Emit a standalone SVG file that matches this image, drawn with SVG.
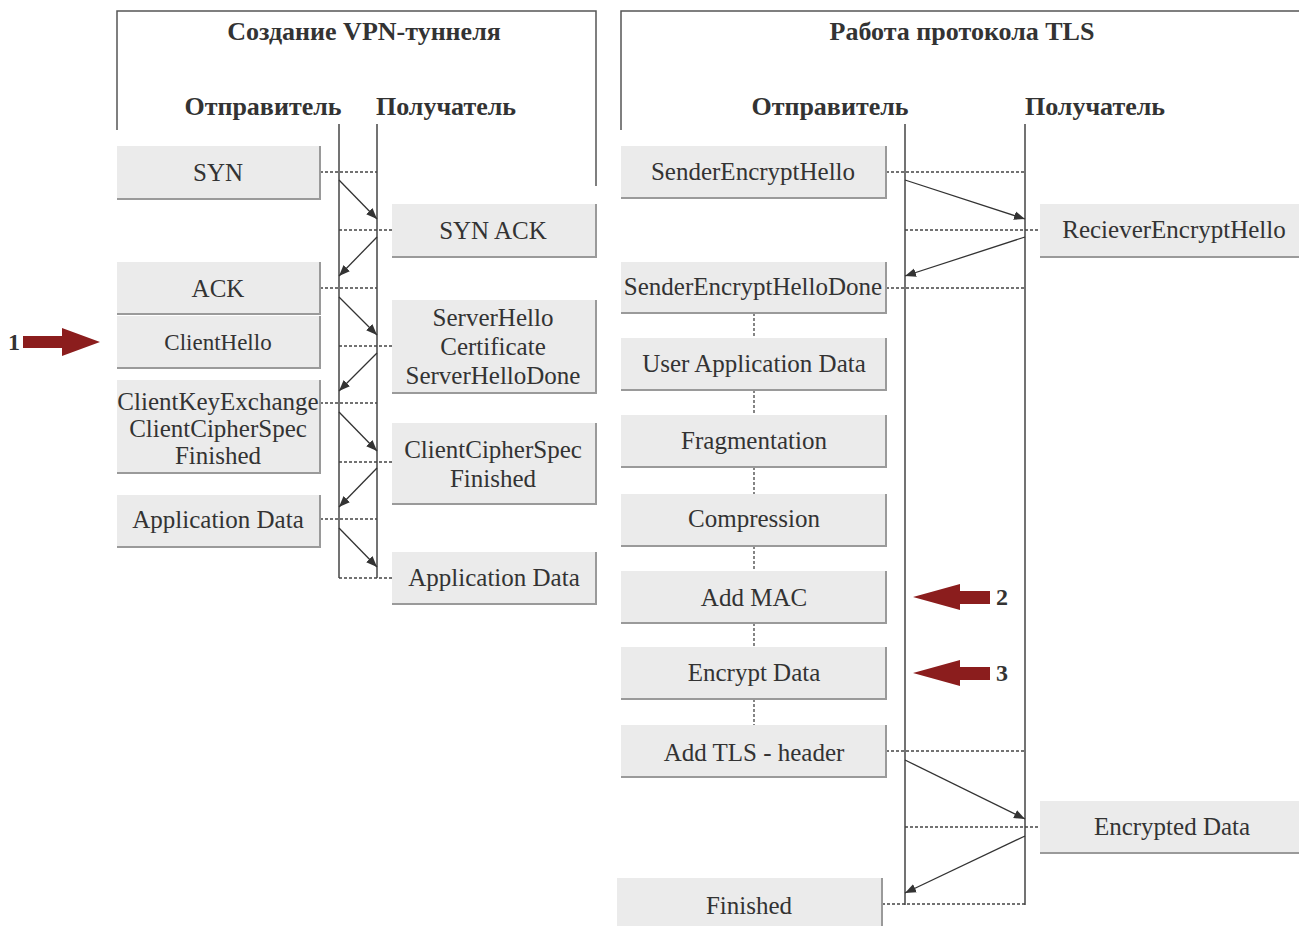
<svg xmlns="http://www.w3.org/2000/svg" width="1299" height="926" viewBox="0 0 1299 926">
<style>
.frame{fill:none;stroke:#555;stroke-width:1.5}
.life{fill:none;stroke:#444;stroke-width:1.5}
.dash{fill:none;stroke:#444;stroke-width:1.3;stroke-dasharray:3 2}
.arr{fill:none;stroke:#333;stroke-width:1.3;marker-end:url(#ah)}
.box{fill:#ebebeb}
.sh{fill:none;stroke:#9a9a9a;stroke-width:2}
.t{font-family:"Liberation Serif","Times New Roman",serif;font-size:25px;fill:#333;text-anchor:middle}
.h{font-family:"Liberation Serif","Times New Roman",serif;font-size:26px;font-weight:bold;fill:#333;text-anchor:middle}
.red{fill:#8b1d1d}
.num{font-family:"Liberation Serif","Times New Roman",serif;font-size:24px;font-weight:bold;fill:#333}
</style>
<defs>
<marker id="ah" viewBox="0 0 10 10" refX="10" refY="5" markerWidth="11" markerHeight="11" markerUnits="userSpaceOnUse" orient="auto">
<path d="M0,1 L10,5 L0,9 Z" fill="#333"/>
</marker>
</defs>
<rect width="1299" height="926" fill="#fff"/>

<g id="frames">
<path class="frame" d="M117,130 V11 H596 V186"/>
<path class="frame" d="M621,130 V11 H1299"/>
<text class="h" x="364" y="40">Создание VPN-туннеля</text>
<text class="h" x="263" y="115">Отправитель</text>
<text class="h" x="446" y="115">Получатель</text>
<text class="h" x="962" y="40">Работа протокола TLS</text>
<text class="h" x="830" y="115">Отправитель</text>
<text class="h" x="1095" y="115">Получатель</text>
</g>

<g id="lifelines">
<line class="life" x1="339" y1="124" x2="339" y2="578"/>
<line class="life" x1="377" y1="124" x2="377" y2="578"/>
<line class="life" x1="905" y1="124" x2="905" y2="905"/>
<line class="life" x1="1025" y1="124" x2="1025" y2="905"/>
</g>

<g id="connectors">
<line class="dash" x1="320" y1="172" x2="377" y2="172"/>
<line class="dash" x1="339" y1="230" x2="392" y2="230"/>
<line class="dash" x1="320" y1="288" x2="377" y2="288"/>
<line class="dash" x1="339" y1="346" x2="392" y2="346"/>
<line class="dash" x1="320" y1="403" x2="377" y2="403"/>
<line class="dash" x1="339" y1="462" x2="392" y2="462"/>
<line class="dash" x1="320" y1="519" x2="377" y2="519"/>
<line class="dash" x1="339" y1="578" x2="392" y2="578"/>
<line class="arr" x1="339" y1="180" x2="377" y2="219"/>
<line class="arr" x1="377" y1="237" x2="339" y2="276"/>
<line class="arr" x1="339" y1="297" x2="377" y2="335"/>
<line class="arr" x1="377" y1="353" x2="339" y2="391"/>
<line class="arr" x1="339" y1="412" x2="377" y2="451"/>
<line class="arr" x1="377" y1="468" x2="339" y2="507"/>
<line class="arr" x1="339" y1="528" x2="377" y2="567"/>
<line class="dash" x1="886" y1="172" x2="1025" y2="172"/>
<line class="dash" x1="905" y1="230" x2="1040" y2="230"/>
<line class="dash" x1="886" y1="288" x2="1025" y2="288"/>
<line class="dash" x1="886" y1="751" x2="1025" y2="751"/>
<line class="dash" x1="905" y1="827" x2="1040" y2="827"/>
<line class="dash" x1="882" y1="904" x2="1025" y2="904"/>
<line class="dash" x1="754" y1="313" x2="754" y2="338"/>
<line class="dash" x1="754" y1="390" x2="754" y2="415"/>
<line class="dash" x1="754" y1="467" x2="754" y2="494"/>
<line class="dash" x1="754" y1="546" x2="754" y2="571"/>
<line class="dash" x1="754" y1="623" x2="754" y2="647"/>
<line class="dash" x1="754" y1="699" x2="754" y2="725"/>
<line class="arr" x1="905" y1="180" x2="1025" y2="219"/>
<line class="arr" x1="1025" y1="237" x2="905" y2="276"/>
<line class="arr" x1="905" y1="760" x2="1025" y2="819"/>
<line class="arr" x1="1025" y1="836" x2="905" y2="893"/>
</g>

<g id="n-syn"><rect class="box" x="117" y="146" width="203" height="53"/><path class="sh" d="M117,199 H320 V146"/><text class="t" x="218" y="181">SYN</text></g>
<g id="n-ack"><rect class="box" x="117" y="262" width="203" height="52"/><path class="sh" d="M117,314 H320 V262"/><text class="t" x="218" y="297">ACK</text></g>
<g id="n-clienthello"><rect class="box" x="117" y="316" width="203" height="52"/><path class="sh" d="M117,368 H320 V316"/><text class="t" x="218" y="350" style="font-size:23px">ClientHello</text></g>
<g id="n-ckx"><rect class="box" x="117" y="380" width="203" height="93"/><path class="sh" d="M117,473 H320 V380"/><text class="t" x="218" y="410">ClientKeyExchange</text><text class="t" x="218" y="437">ClientCipherSpec</text><text class="t" x="218" y="464">Finished</text></g>
<g id="n-appdata-l"><rect class="box" x="117" y="495" width="203" height="52"/><path class="sh" d="M117,547 H320 V495"/><text class="t" x="218" y="528">Application Data</text></g>

<g id="n-synack"><rect class="box" x="392" y="204" width="204" height="53"/><path class="sh" d="M392,257 H596 V204"/><text class="t" x="493" y="239">SYN ACK</text></g>
<g id="n-serverhello"><rect class="box" x="392" y="300" width="204" height="93"/><path class="sh" d="M392,393 H596 V300"/><text class="t" x="493" y="326">ServerHello</text><text class="t" x="493" y="355">Certificate</text><text class="t" x="493" y="384">ServerHelloDone</text></g>
<g id="n-ccs"><rect class="box" x="392" y="423" width="204" height="81"/><path class="sh" d="M392,504 H596 V423"/><text class="t" x="493" y="458">ClientCipherSpec</text><text class="t" x="493" y="487">Finished</text></g>
<g id="n-appdata-r"><rect class="box" x="392" y="552" width="204" height="52"/><path class="sh" d="M392,604 H596 V552"/><text class="t" x="494" y="586">Application Data</text></g>

<g id="n-seh"><rect class="box" x="621" y="146" width="265" height="52"/><path class="sh" d="M621,198 H886 V146"/><text class="t" x="753" y="180">SenderEncryptHello</text></g>
<g id="n-sehd"><rect class="box" x="621" y="262" width="265" height="51"/><path class="sh" d="M621,313 H886 V262"/><text class="t" x="753" y="295">SenderEncryptHelloDone</text></g>
<g id="n-uad"><rect class="box" x="621" y="338" width="265" height="52"/><path class="sh" d="M621,390 H886 V338"/><text class="t" x="754" y="372">User Application Data</text></g>
<g id="n-frag"><rect class="box" x="621" y="415" width="265" height="52"/><path class="sh" d="M621,467 H886 V415"/><text class="t" x="754" y="449">Fragmentation</text></g>
<g id="n-comp"><rect class="box" x="621" y="494" width="265" height="52"/><path class="sh" d="M621,546 H886 V494"/><text class="t" x="754" y="527">Compression</text></g>
<g id="n-mac"><rect class="box" x="621" y="571" width="265" height="52"/><path class="sh" d="M621,623 H886 V571"/><text class="t" x="754" y="606">Add MAC</text></g>
<g id="n-enc"><rect class="box" x="621" y="647" width="265" height="52"/><path class="sh" d="M621,699 H886 V647"/><text class="t" x="754" y="681">Encrypt Data</text></g>
<g id="n-tls"><rect class="box" x="621" y="725" width="265" height="52"/><path class="sh" d="M621,777 H886 V725"/><text class="t" x="754" y="761">Add TLS - header</text></g>
<g id="n-fin"><rect class="box" x="617" y="878" width="265" height="48"/><path class="sh" d="M882,926 V878"/><text class="t" x="749" y="914">Finished</text></g>

<g id="n-reh"><rect class="box" x="1040" y="204" width="259" height="53"/><path class="sh" d="M1040,257 H1299"/><text class="t" x="1174" y="238">RecieverEncryptHello</text></g>
<g id="n-encdata"><rect class="box" x="1040" y="801" width="259" height="52"/><path class="sh" d="M1040,853 H1299"/><text class="t" x="1172" y="835">Encrypted Data</text></g>

<g id="marker1"><path class="red" d="M23,336 H62 V328 L100,342 L62,356 V348 H23 Z"/><text class="num" x="8" y="350">1</text></g>
<g id="marker2"><path class="red" d="M990,591 H960 V584 L913,597 L960,610 V604 H990 Z"/><text class="num" x="996" y="605">2</text></g>
<g id="marker3"><path class="red" d="M990,667 H960 V660 L913,673 L960,686 V680 H990 Z"/><text class="num" x="996" y="681">3</text></g>
</svg>
